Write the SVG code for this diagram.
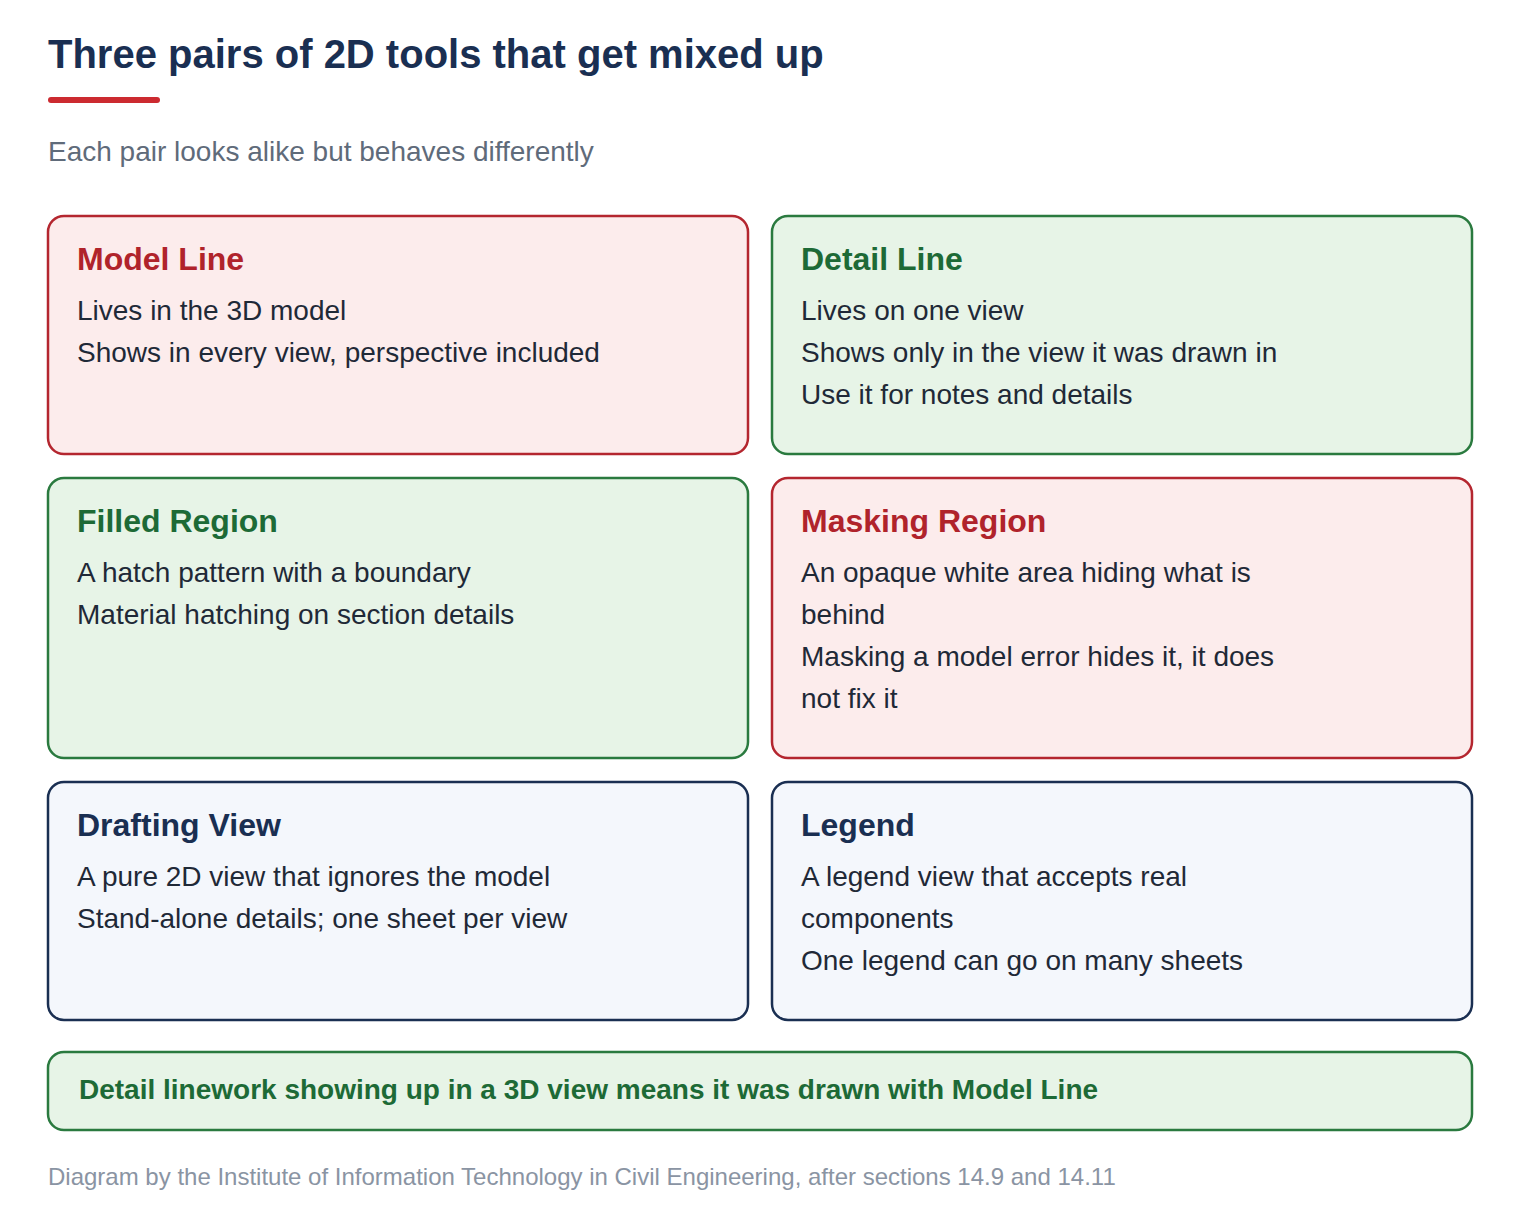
<svg xmlns="http://www.w3.org/2000/svg" width="1520" height="1214" viewBox="0 0 1520 1214">
<style>
text{font-family:"Liberation Sans",Arial,sans-serif}
.box{stroke-width:2.5}
.red{fill:#fcecec;stroke:#b4262f}
.green{fill:#e7f4e7;stroke:#2a7a3f}
.navy{fill:#f4f7fc;stroke:#1a2f52}
.h{font-size:32px;font-weight:bold}
.hr{fill:#b0232b}.hg{fill:#1d6a36}.hn{fill:#1a2f52}
.b{font-size:28px;fill:#1f2937}
</style>
<rect width="1520" height="1214" fill="#ffffff"/>
<text x="48" y="68" font-size="40" font-weight="bold" fill="#1a2f52">Three pairs of 2D tools that get mixed up</text>
<rect x="48" y="97" width="112" height="6" rx="3" fill="#cc2a30"/>
<text x="48" y="161" font-size="28" fill="#5f6b7a">Each pair looks alike but behaves differently</text>
<g id="model-line"><rect class="box red" x="48" y="216" width="700" height="238" rx="16"/>
<text class="h hr" x="77" y="270">Model Line</text>
<text class="b" x="77" y="320">Lives in the 3D model</text>
<text class="b" x="77" y="362">Shows in every view, perspective included</text></g>
<g id="detail-line"><rect class="box green" x="772" y="216" width="700" height="238" rx="16"/>
<text class="h hg" x="801" y="270">Detail Line</text>
<text class="b" x="801" y="320">Lives on one view</text>
<text class="b" x="801" y="362">Shows only in the view it was drawn in</text>
<text class="b" x="801" y="404">Use it for notes and details</text></g>
<g id="filled-region"><rect class="box green" x="48" y="478" width="700" height="280" rx="16"/>
<text class="h hg" x="77" y="532">Filled Region</text>
<text class="b" x="77" y="582">A hatch pattern with a boundary</text>
<text class="b" x="77" y="624">Material hatching on section details</text></g>
<g id="masking-region"><rect class="box red" x="772" y="478" width="700" height="280" rx="16"/>
<text class="h hr" x="801" y="532">Masking Region</text>
<text class="b" x="801" y="582">An opaque white area hiding what is</text>
<text class="b" x="801" y="624">behind</text>
<text class="b" x="801" y="666">Masking a model error hides it, it does</text>
<text class="b" x="801" y="708">not fix it</text></g>
<g id="drafting-view"><rect class="box navy" x="48" y="782" width="700" height="238" rx="16"/>
<text class="h hn" x="77" y="836">Drafting View</text>
<text class="b" x="77" y="886">A pure 2D view that ignores the model</text>
<text class="b" x="77" y="928">Stand-alone details; one sheet per view</text></g>
<g id="legend"><rect class="box navy" x="772" y="782" width="700" height="238" rx="16"/>
<text class="h hn" x="801" y="836">Legend</text>
<text class="b" x="801" y="886">A legend view that accepts real</text>
<text class="b" x="801" y="928">components</text>
<text class="b" x="801" y="970">One legend can go on many sheets</text></g>
<g id="note"><rect class="box green" x="48" y="1052" width="1424" height="78" rx="16"/>
<text x="79" y="1099" font-size="28" font-weight="bold" fill="#1d6a36">Detail linework showing up in a 3D view means it was drawn with Model Line</text></g>
<g id="connectors"/>
<text x="48" y="1185" font-size="24" fill="#8a94a3">Diagram by the Institute of Information Technology in Civil Engineering, after sections 14.9 and 14.11</text>
</svg>
